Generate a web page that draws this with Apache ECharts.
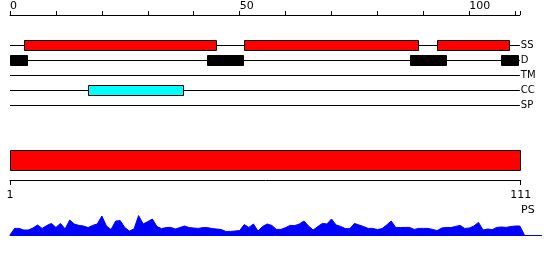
<!DOCTYPE html>
<html>
<head>
<meta charset="utf-8">
<script src="https://cdn.jsdelivr.net/npm/echarts@6/dist/echarts.min.js"></script>
<style>html,body{margin:0;padding:0;background:#fff}#c{width:550px;height:260px}</style>
</head>
<body>
<div id="c"></div>
<script>
// ---- data ----
const tracks = ['SS', 'D', 'TM', 'CC', 'SP'];
const ssDomains = [[3, 45], [51, 89], [93, 109]];
const dDomains = [[0, 4], [43, 51], [87, 95], [107, 111]];
const tmDomains = [];
const ccDomains = [[17, 38]];
const spDomains = [];
const proteinStart = 1;
const proteinEnd = 111;
const topTicks = [0, 50, 100];
const bottomTicks = [1, 111];
const psValues = [
  0, 0.33, 0.33, 0.25, 0.25, 0.35, 0.5, 0.33, 0.47, 0.58,
  0.38, 0.58, 0.3, 0.75, 0.55, 0.48, 0.45, 0.37, 0.48, 0.55,
  0.95, 0.45, 0.27, 0.7, 0.72, 0.37, 0.2, 0.3, 0.97, 0.55,
  0.67, 0.8, 0.42, 0.32, 0.37, 0.38, 0.3, 0.37, 0.45, 0.37,
  0.35, 0.33, 0.37, 0.37, 0.32, 0.3, 0.27, 0.18, 0.18, 0.2,
  0.22, 0.52, 0.38, 0.55, 0.2, 0.43, 0.55, 0.48, 0.28, 0.28,
  0.37, 0.48, 0.47, 0.55, 0.7, 0.45, 0.25, 0.42, 0.58, 0.55,
  0.8, 0.5, 0.43, 0.32, 0.32, 0.58, 0.5, 0.42, 0.33, 0.33,
  0.27, 0.32, 0.5, 0.7, 0.37, 0.37, 0.38, 0.38, 0.28, 0.33,
  0.33, 0.33, 0.28, 0.22, 0.35, 0.38, 0.37, 0.43, 0.48, 0.33,
  0.35, 0.45, 0.63, 0.25, 0.3, 0.27, 0.38, 0.4, 0.38, 0.42,
  0.45, 0.45, 0
];

// ---- build ----
const U = 4.593; // px per residue
const FONT = 'DejaVu Sans';
const trackColors = { SS: '#ff0000', D: '#000000', TM: '#000000', CC: '#00ffff', SP: '#000000' };
const domainLists = { SS: ssDomains, D: dDomains, TM: tmDomains, CC: ccDomains, SP: spDomains };
const domainData = [];
tracks.forEach((t, i) => {
  domainLists[t].forEach(d => domainData.push({ value: [d[0], d[1], i], itemStyle: { color: trackColors[t] } }));
});

function boxRenderer(h) {
  return function (params, api) {
    const s = api.coord([api.value(0), api.value(2)]);
    const e = api.coord([api.value(1), api.value(2)]);
    return {
      type: 'rect',
      shape: { x: Math.round(s[0]) + 0.5, y: Math.round(s[1] - h / 2) + 0.5, width: Math.round(e[0] - s[0]) - 1, height: h },
      style: { fill: api.visual('color'), stroke: '#000', lineWidth: 1 }
    };
  };
}

const chart = echarts.init(document.getElementById('c'), null, { renderer: 'canvas' });
chart.setOption({
  animation: false,
  backgroundColor: '#fff',
  textStyle: { fontFamily: FONT },
  title: {
    text: 'PS', left: 521, top: 205, padding: 0,
    textStyle: { fontFamily: FONT, fontSize: 11, fontWeight: 'normal', color: '#000' }
  },
  grid: [
    { left: 10, top: 45, width: 111 * U, height: 60 },
    { left: 10, top: 150, width: 510.7, height: 20 },
    { left: 10, top: 215, width: 531.7, height: 20 }
  ],
  xAxis: [
    {
      gridIndex: 0, type: 'value', min: 0, max: 111, interval: 10, position: 'top', offset: 30,
      axisLine: { show: true, onZero: false, lineStyle: { color: '#000', width: 1 } },
      axisTick: { show: true, length: 4, lineStyle: { color: '#000' } },
      axisLabel: {
        show: true, margin: 3, align: 'left', color: '#000', fontSize: 11, fontFamily: FONT,
        formatter: v => topTicks.indexOf(v) >= 0 ? String(v) : ''
      },
      splitLine: { show: false }
    },
    {
      gridIndex: 1, type: 'value', min: proteinStart, max: proteinEnd, position: 'bottom', offset: 10,
      axisLine: { show: true, onZero: false, lineStyle: { color: '#000', width: 1 } },
      axisTick: { show: true, length: 5, customValues: bottomTicks, lineStyle: { color: '#000' } },
      axisLabel: { show: true, margin: 10, customValues: bottomTicks, color: '#000', fontSize: 11, fontFamily: FONT },
      splitLine: { show: false }
    },
    {
      gridIndex: 2, type: 'value', min: 0, max: 531.7 / U,
      axisLine: { show: true, onZero: false, lineStyle: { color: '#0000ff', width: 1 } },
      axisTick: { show: false }, axisLabel: { show: false }, splitLine: { show: false }
    }
  ],
  yAxis: [
    {
      gridIndex: 0, type: 'category', data: tracks, inverse: true, boundaryGap: false, position: 'right',
      axisLine: { show: false }, axisTick: { show: false },
      axisLabel: { show: true, margin: 1, color: '#000', fontSize: 10, fontFamily: FONT },
      splitLine: { show: true, lineStyle: { color: '#000', width: 1 } }
    },
    {
      gridIndex: 1, type: 'category', data: ['protein'], show: false
    },
    {
      gridIndex: 2, type: 'value', min: 0, max: 1, show: false
    }
  ],
  series: [
    {
      type: 'custom', xAxisIndex: 0, yAxisIndex: 0, renderItem: boxRenderer(10),
      encode: { x: [0, 1], y: 2 }, data: domainData
    },
    {
      type: 'custom', xAxisIndex: 1, yAxisIndex: 1, renderItem: boxRenderer(20),
      encode: { x: [0, 1], y: 2 },
      data: [{ value: [proteinStart, proteinEnd, 0], itemStyle: { color: '#ff0000' } }]
    },
    {
      type: 'line', xAxisIndex: 2, yAxisIndex: 2, symbol: 'none',
      lineStyle: { color: '#0000ff', width: 1 }, itemStyle: { color: '#0000ff' },
      areaStyle: { color: '#0000ff', opacity: 1 },
      data: psValues.map((v, i) => [i, v])
    }
  ]
});
</script>
</body>
</html>
